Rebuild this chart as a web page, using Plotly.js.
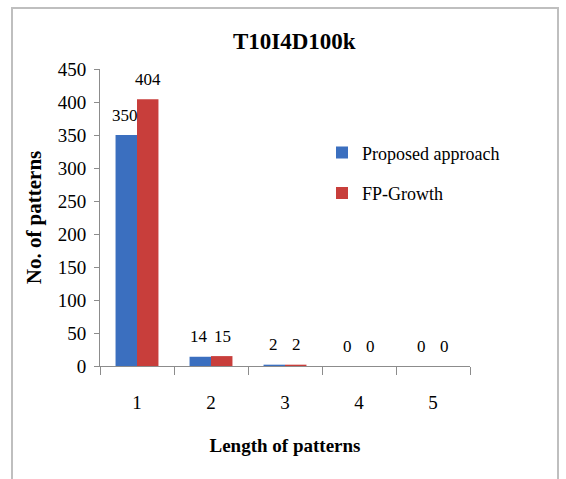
<!DOCTYPE html>
<html>
<head>
<meta charset="utf-8">
<script src="https://cdn.plot.ly/plotly-3.0.1.min.js"></script>
<style>
  html, body { margin: 0; padding: 0; background: #ffffff; }
  #frame { position: absolute; left: 11px; top: 7px; width: 548px; height: 520px;
           border: 2px solid #bfbfbf; box-sizing: border-box; }
  #chart { position: absolute; left: 0; top: 0; width: 566px; height: 479px; }
</style>
</head>
<body>
<div id="frame"></div>
<div id="chart"></div>
<script>
// Pattern counts by pattern length on T10I4D100k
const lengths = ['1', '2', '3', '4', '5'];
const proposedCounts = [350, 14, 2, 0, 0];
const fpGrowthCounts = [404, 15, 2, 0, 0];
const seriesNames = ['Proposed approach', 'FP-Growth'];
const yTicks = [0, 50, 100, 150, 200, 250, 300, 350, 400, 450];

const serif = 'Liberation Serif, Times New Roman, serif';

const traces = [
  {
    type: 'bar', name: seriesNames[0], x: lengths, y: proposedCounts,
    legendgroup: 'a',
    marker: { color: '#3b6fbf', line: { width: 0 } },
    hoverinfo: 'x+y'
  },
  {
    type: 'bar', name: seriesNames[1], x: lengths, y: fpGrowthCounts,
    legendgroup: 'b',
    marker: { color: '#c83e3b', line: { width: 0 } },
    hoverinfo: 'x+y'
  }
];

// Value labels above each bar (x given as the category's index on the axis)
const annotations = [];
[proposedCounts, fpGrowthCounts].forEach((vals, s) => {
  vals.forEach((v, i) => {
    annotations.push({
      x: i, y: v, xref: 'x', yref: 'y',
      text: String(v), showarrow: false,
      xshift: s === 0 ? -12 : 11, yshift: 20,
      yanchor: 'middle',
      font: { family: serif, size: 17, color: '#000' }
    });
  });
});

const layout = {
  width: 566, height: 479,
  paper_bgcolor: 'rgba(0,0,0,0)', plot_bgcolor: 'rgba(0,0,0,0)',
  margin: { l: 100, r: 96, t: 69, b: 113 },
  title: {
    text: '<b>T10I4D100k</b>', x: 0.52, xanchor: 'center', y: 0.915, yanchor: 'middle',
    font: { family: serif, size: 23, color: '#000' }
  },
  barmode: 'group', bargap: 0.42, bargroupgap: 0,
  xaxis: {
    type: 'category', tickson: 'boundaries', range: [-0.5, 4.5],
    showline: true, linecolor: '#8c8c8c', linewidth: 1,
    ticks: 'outside', ticklen: 8, tickcolor: '#8c8c8c',
    ticklabelstandoff: 19,
    tickfont: { family: serif, size: 19, color: '#000' },
    title: { text: '<b>Length of patterns</b>', standoff: 26,
             font: { family: serif, size: 19, color: '#000' } },
    showgrid: false, zeroline: false
  },
  yaxis: {
    range: [0, 450], tickvals: yTicks,
    showline: true, linecolor: '#8c8c8c', linewidth: 1,
    ticks: 'outside', ticklen: 5, tickcolor: '#8c8c8c',
    ticklabelstandoff: 4,
    tickfont: { family: serif, size: 19, color: '#000' },
    title: { text: '<b>No. of patterns</b>', standoff: 10,
             font: { family: serif, size: 21, color: '#000' } },
    showgrid: false, zeroline: false
  },
  legend: {
    x: 0.6, y: 0.78, xanchor: 'left', yanchor: 'top',
    traceorder: 'grouped', tracegroupgap: 14,
    bgcolor: 'rgba(0,0,0,0)',
    font: { family: serif, size: 18, color: '#000' }
  },
  annotations: annotations,
  showlegend: true
};

Plotly.newPlot('chart', traces, layout, { displayModeBar: false, staticPlot: true });
</script>
</body>
</html>
